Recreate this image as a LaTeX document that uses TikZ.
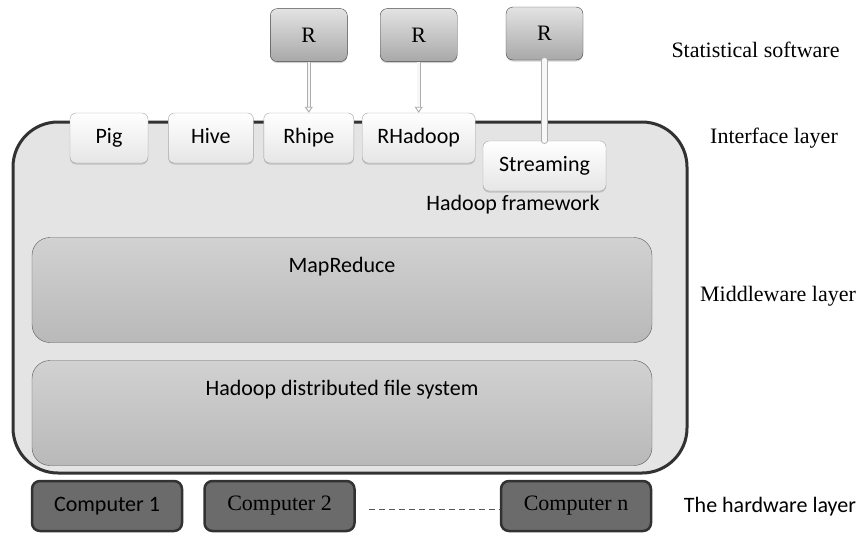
\documentclass[tikz,border=0pt]{standalone}
\usepackage{fontspec}
\setmainfont{Liberation Serif}
\newfontfamily\calfont{Carlito}
\usepackage{tikz}
\usetikzlibrary{positioning,shadows,arrows.meta}

\definecolor{framefill}{RGB}{228,228,228}
\definecolor{frameline}{RGB}{50,50,50}
\definecolor{compfill}{RGB}{107,107,107}

\begin{document}
\begin{tikzpicture}[x=1pt,y=-1pt,
		sans/.style={font=\calfont\fontsize{22}{26}\selectfont},
		serif/.style={font=\fontsize{22}{26}\selectfont},
		iface/.style={sans, draw=gray!70, rounded corners=6pt, top color=white, bottom color=gray!20,
			minimum height=50pt, inner sep=0pt, text height=15pt, text depth=5pt,
			drop shadow={shadow xshift=0pt, shadow yshift=-1.5pt, opacity=0.35}},
		rbox/.style={serif, draw=gray!55!black, rounded corners=7pt, top color=gray!22, bottom color=gray!68,
			minimum width=77pt, minimum height=53pt, inner sep=0pt,
			drop shadow={shadow xshift=0pt, shadow yshift=-1.5pt, opacity=0.35}},
		layer/.style={draw=gray!70!black, rounded corners=18pt, top color=gray!36, bottom color=gray!55,
			minimum width=620pt, minimum height=105pt, inner sep=0pt},
		computer/.style={draw=frameline, line width=2.5pt, rounded corners=8pt, fill=compfill,
			minimum width=150pt, minimum height=50pt, inner sep=0pt},
		arrowpipe/.style={draw=gray!65, double=gray!6, double distance=2.6pt, line width=0.9pt,
			-{Triangle[open,length=6pt,width=8pt]}},
		thickpipe/.style={draw=gray!65, double=gray!6, double distance=4.4pt, line width=0.9pt, line cap=round}
	]
	\useasboundingbox (0,0) rectangle (863,533);
	% Hadoop framework
	\draw[frameline, line width=3pt, fill=framefill, rounded corners=45pt] (13,122) rectangle (687,473);
	\node[sans] (hadoop) at (513,205) {Hadoop framework};
	\node[layer] (mapreduce) at (342,290) {};
	\node[sans, below=16pt of mapreduce.north] {MapReduce};
	\node[layer] (hdfs) at (342,413) {};
	\node[sans, below=16pt of hdfs.north] {Hadoop distributed file system};
	% interface layer
	\node[iface, minimum width=78pt] (pig) at (109,138) {Pig};
	\node[iface, minimum width=85pt, right=20pt of pig] (hive) {Hive};
	\node[iface, minimum width=90pt, right=10pt of hive] (rhipe) {Rhipe};
	\node[iface, minimum width=113pt, right=8pt of rhipe] (rhadoop) {RHadoop};
	\node[iface, minimum width=123pt] (streaming) at (544.5,166) {Streaming};
	% statistical software
	\node[rbox, above=51pt of rhipe] (r1) {R};
	\node[rbox, above=51pt of rhadoop] (r2) {R};
	\node[rbox] (r3) at (544.5,33.5) {R};
	\draw[arrowpipe] (r1) -- (rhipe);
	\draw[arrowpipe] (r2) -- (rhadoop);
	\draw[thickpipe] (r3) -- (streaming);
	% hardware
	\node[computer, sans] (c1) at (107,506) {Computer 1};
	\node[computer, serif, right=20pt of c1] (c2) {Computer 2};
	\node[computer, serif] (cn) at (576,506) {Computer n};
	\draw[gray!70!black, dash pattern=on 6pt off 4pt] ([shift={(13,3)}]c2.east) -- ([yshift=-3pt]cn.west);
	% layer names
	\node[serif] (stat) at (755.5,50) {Statistical software};
	\node[serif] (ilayer) at (774,138) {Interface layer};
	\node[serif] (mlayer) at (778,296) {Middleware layer};
	\node[sans] (hlayer) at (770,507) {The hardware layer};
\end{tikzpicture}
\end{document}
